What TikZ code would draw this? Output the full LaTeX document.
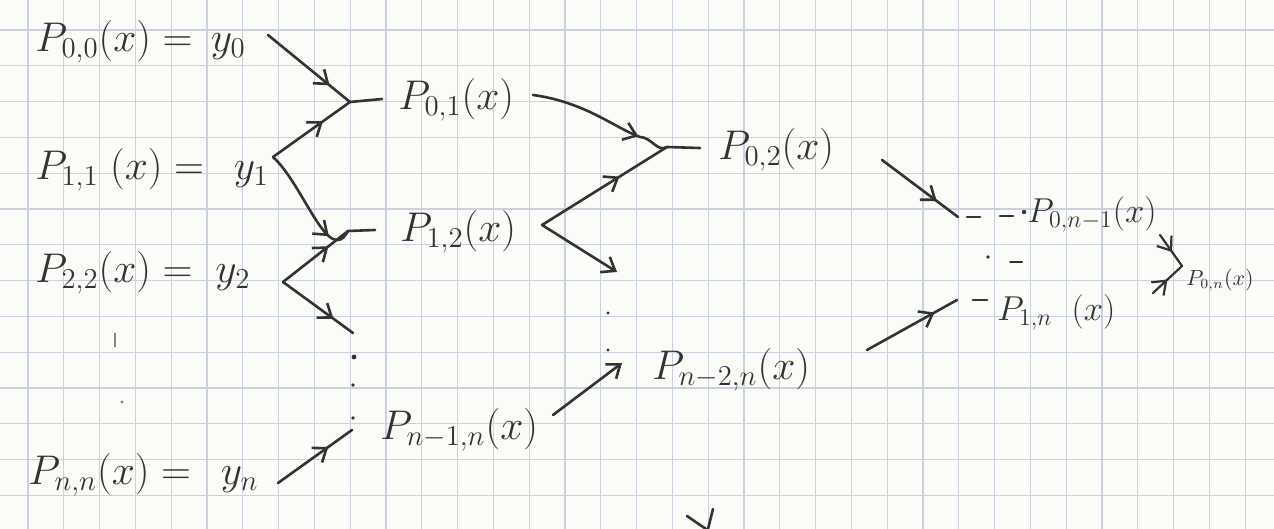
\documentclass[tikz,border=0pt]{standalone}
\usetikzlibrary{arrows.meta,decorations.markings}
\definecolor{ink}{HTML}{333333}
\definecolor{gridc}{HTML}{C9D3DD}
\definecolor{paper}{HTML}{FBFBF8}
\tikzset{
  lab/.style={anchor=west,inner sep=0pt,text=ink,font=\fontsize{21}{24}\selectfont},
  labs/.style={lab,font=\fontsize{17}{20}\selectfont},
  labt/.style={lab,font=\fontsize{10.5}{12}\selectfont},
  wire/.style={draw=ink,line width=1.3pt,line cap=round,line join=round},
  marr/.style={postaction={decorate,decoration={markings,mark=at position #1 with {\arrow{Straight Barb[length=6pt,width=9pt]}}}}},
  endarr/.style={-{Straight Barb[length=6pt,width=9pt]}},
  gridline/.style={draw=gridc,line width=0.6pt},
  inkdot/.style={fill=ink}
}
\begin{document}
\begin{tikzpicture}[x=0.5pt,y=-0.5pt]
\useasboundingbox (0,0) rectangle (1274,529);
\clip (0,0) rectangle (1274,529);
\fill[paper] (0,0) rectangle (1274,529);
% grid paper
\foreach \k in {-1,...,35} \draw[gridline] ({28+\k*35.8},0) -- ({28+\k*35.8},529);
\foreach \k in {-1,...,14} \draw[gridline] (0,{30+\k*35.8}) -- (1274,{30+\k*35.8});

% labels
\node[lab] (p00) at (35,42) {$P_{0,0}(x)=\,y_0$};
\node[lab] (p11) at (35,170) {$P_{1,1}\;(x)=\,\;y_1$};
\node[lab] (p22) at (35,273) {$P_{2,2}(x)=\;y_2$};
\node[lab] (pnn) at (28,475) {$P_{n,n}(x)=\;\,y_n$};
\node[lab] (p01) at (398,100) {$P_{0,1}(x)$};
\node[lab] (p12) at (400,232) {$P_{1,2}(x)$};
\node[lab] (pn1n) at (380,430) {$P_{n-1,n}(x)$};
\node[lab] (p02) at (718,150) {$P_{0,2}(x)$};
\node[lab] (pn2n) at (652,370) {$P_{n-2,n}(x)$};
\node[labs] (p0n1) at (1027,214) {$P_{0,n-1}(x)$};
\node[labs] (p1n) at (997,312) {$P_{1,n}\;\;(x)$};
\node[labt] (p0n) at (1186,280) {$P_{0,n}(x)$};

% junctions, vertices and line ends
\coordinate (a00) at (268,35);
\coordinate (v11) at (273,157);
\coordinate (v22) at (283,282);
\coordinate (ann) at (278,483);
\coordinate (j1) at (350,102);
\coordinate (j2) at (348,231);
\coordinate (j3) at (352,430);
\coordinate (e1) at (353,333);
\coordinate (t1) at (382,99);
\coordinate (t2) at (375,230);
\coordinate (a01) at (533,95);
\coordinate (v12) at (542,225);
\coordinate (j4) at (667,147);
\coordinate (t4) at (700,148);
\coordinate (e2) at (617,272);
\coordinate (an1) at (553,415);
\coordinate (e3) at (622,363);
\coordinate (a02) at (882,160);
\coordinate (j5) at (958,217);
\coordinate (an2) at (867,350);
\coordinate (j6) at (957,300);
\coordinate (b1) at (1160,235);
\coordinate (b2) at (1153,293);
\coordinate (j7) at (1182,266);

% first column
\draw[wire,marr=0.75] (a00) -- (j1);
\draw[wire,marr=0.65] (v11) -- (j1);
\draw[wire,marr=0.8] (v11) to[out=-42,in=-118] (j2);
\draw[wire] (j1) -- (t1);
\draw[wire] (j2) -- (t2);
\draw[wire,marr=0.7] (v22) -- (j2);
\draw[wire,marr=0.72] (v22) -- (e1);
\draw[wire,marr=0.68] (ann) -- (j3);

% second column
\draw[wire,marr=0.78] (a01) .. controls (585,102) and (615,128) .. (640,137) to[out=0,in=-150] (j4);
\draw[wire] (j4) -- (t4);
\draw[wire,marr=0.62] (v12) -- (j4);
\draw[wire,endarr] (v12) -- (e2);
\draw[wire,endarr] (an1) -- (e3);

% third column
\draw[wire,marr=0.72] (a02) -- (j5);
\draw[wire,marr=0.75] (an2) -- (j6);
\draw[wire] (967,217) -- (980,217);
\draw[wire] (1000,216) -- (1013,216);
\fill[inkdot] (1024,212) circle[radius=1.1pt];
\draw[wire] (973,300) -- (987,300);
\fill[inkdot] (988,257) circle[radius=0.9pt];
\draw[wire,line width=1pt] (1010,262) -- (1022,262);

% final
\draw[wire,line width=1.1pt,marr=0.55] (b1) -- (j7);
\draw[wire,line width=1.1pt,marr=0.5] (b2) -- (j7);

% ellipsis dots
\fill[inkdot] (354,357) circle[radius=1.2pt];
\fill[inkdot] (353,385) circle[radius=0.9pt];
\fill[inkdot] (353,418) circle[radius=0.9pt];
\fill[inkdot] (608,313) circle[radius=0.8pt];
\fill[inkdot] (608,350) circle[radius=0.8pt];
\draw[draw=ink!60,line width=0.8pt] (115,333) -- (115,347);
\fill[ink!60] (122,402) circle[radius=0.8pt];

% cut-off mark at the bottom
\draw[wire] (687,516) -- (706,529);
\draw[wire] (713,509) -- (708,529);
\end{tikzpicture}
\end{document}
